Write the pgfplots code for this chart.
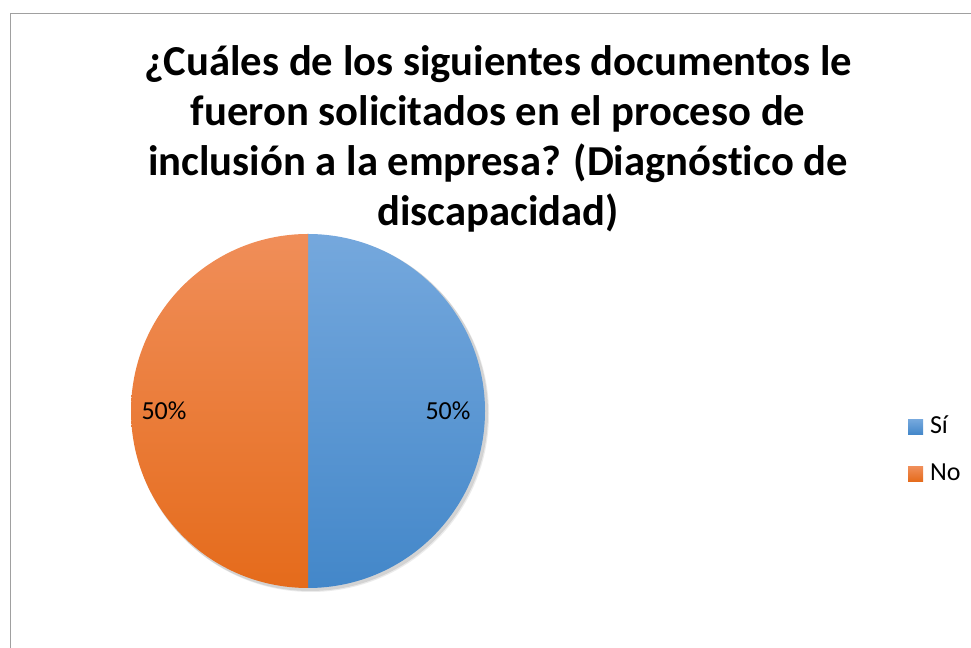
\documentclass[border=0pt]{standalone}
\usepackage{pgfplots}
\usepackage{pgfplotstable}
\pgfplotsset{compat=1.18}
\usetikzlibrary{calc}
\usepackage{fontspec}
\setmainfont[Ligatures={NoCommon}]{Carlito}
\definecolor{bluetop}{HTML}{75A8DD}
\definecolor{bluebot}{HTML}{4387C9}
\definecolor{orgtop}{HTML}{F08E59}
\definecolor{orgbot}{HTML}{E56B1B}
\definecolor{framegray}{HTML}{A0A0A0}

\pgfplotstableread[col sep=comma]{
label,value
Sí,50
No,50
}\piedata

\begin{document}
\begin{tikzpicture}[x=0.75pt,y=0.75pt]
\path[use as bounding box] (0,0) rectangle (971,648);
\pgfplotstablegetelem{0}{value}\of\piedata \let\vA\pgfplotsretval
\pgfplotstablegetelem{1}{value}\of\piedata \let\vB\pgfplotsretval
\pgfplotstablegetelem{0}{label}\of\piedata \let\lA\pgfplotsretval
\pgfplotstablegetelem{1}{label}\of\piedata \let\lB\pgfplotsretval
\pgfmathsetmacro{\tot}{\vA+\vB}
\pgfmathsetmacro{\aS}{90}
\pgfmathsetmacro{\aM}{90-\vA/\tot*360}
\pgfmathsetmacro{\aE}{\aM-\vB/\tot*360}
\pgfmathsetmacro{\mA}{(\aS+\aM)/2}
\pgfmathsetmacro{\mB}{(\aM+\aE)/2}
\pgfmathsetmacro{\pA}{\vA/\tot*100}
\pgfmathsetmacro{\pB}{\vB/\tot*100}
\begin{axis}[
  at={(0,0)}, anchor=south west,
  scale only axis, width=728.25pt, height=486pt,
  xmin=0, xmax=971, ymin=0, ymax=648,
  hide axis, clip=false,
  /pgf/number format/assume math mode=true,
  legend style={draw=none, fill=none, inner sep=0pt, outer sep=0pt,
    at={(axis cs:908,197.5)}, anchor=west,
    font=\fontsize{19.5}{22}\selectfont, row sep=17.5pt,
    nodes={inner sep=0pt, text height=13.5pt, text depth=4.25pt},
    /tikz/every even column/.append style={column sep=0pt},
    /tikz/every odd column/.append style={column sep=0pt}},
  legend cell align=left,
]
% frame
\draw[framegray, line width=1pt] (axis cs:10.5,-20) -- (axis cs:10.5,634.5) -- (axis cs:1000,634.5);
% shadow
\fill[black, opacity=0.10] (axis cs:310,235) circle[radius=133.5pt];
\fill[black, opacity=0.08] (axis cs:311,234) circle[radius=133.5pt];
% slices
\shade[top color=bluetop, bottom color=bluebot]
  (axis cs:308,237) -- ++(\aS:132.75pt) arc[start angle=\aS, end angle=\aM, radius=132.75pt] -- cycle;
\shade[top color=orgtop, bottom color=orgbot]
  (axis cs:308,237) -- ++(\aM:132.75pt) arc[start angle=\aM, end angle=\aE, radius=132.75pt] -- cycle;
% data labels
\node[font=\fontsize{19.5}{22}\selectfont] at ($(axis cs:308,237)+(\mA:105pt)$) {\pgfmathprintnumber[precision=0]{\pA}\%};
\node[font=\fontsize{19.5}{22}\selectfont] at ($(axis cs:308,237)+(\mB:108pt)$) {\pgfmathprintnumber[precision=0]{\pB}\%};
% title
\begin{scope}[every node/.style={anchor=base, font=\fontsize{32}{38}\selectfont\bfseries, inner sep=0pt}]
\node at (axis cs:498,572) {¿Cuáles de los siguientes documentos le};
\node at (axis cs:498,522) {fueron solicitados en el proceso de};
\node at (axis cs:498,472) {inclusión a la empresa? (Diagnóstico de};
\node at (axis cs:498,422) {discapacidad)};
\end{scope}
\addlegendimage{legend image code/.code={\path[draw=none] (0pt,0pt) -- (16.5pt,0pt);\shade[draw=none, top color=bluetop, bottom color=bluebot] (0pt,-5.6pt) rectangle (11.25pt,5.6pt);}}
\addlegendentry{\lA}
\addlegendimage{legend image code/.code={\path[draw=none] (0pt,0pt) -- (16.5pt,0pt);\shade[draw=none, top color=orgtop, bottom color=orgbot] (0pt,-5.6pt) rectangle (11.25pt,5.6pt);}}
\addlegendentry{\lB}
\end{axis}
\end{tikzpicture}
\end{document}
